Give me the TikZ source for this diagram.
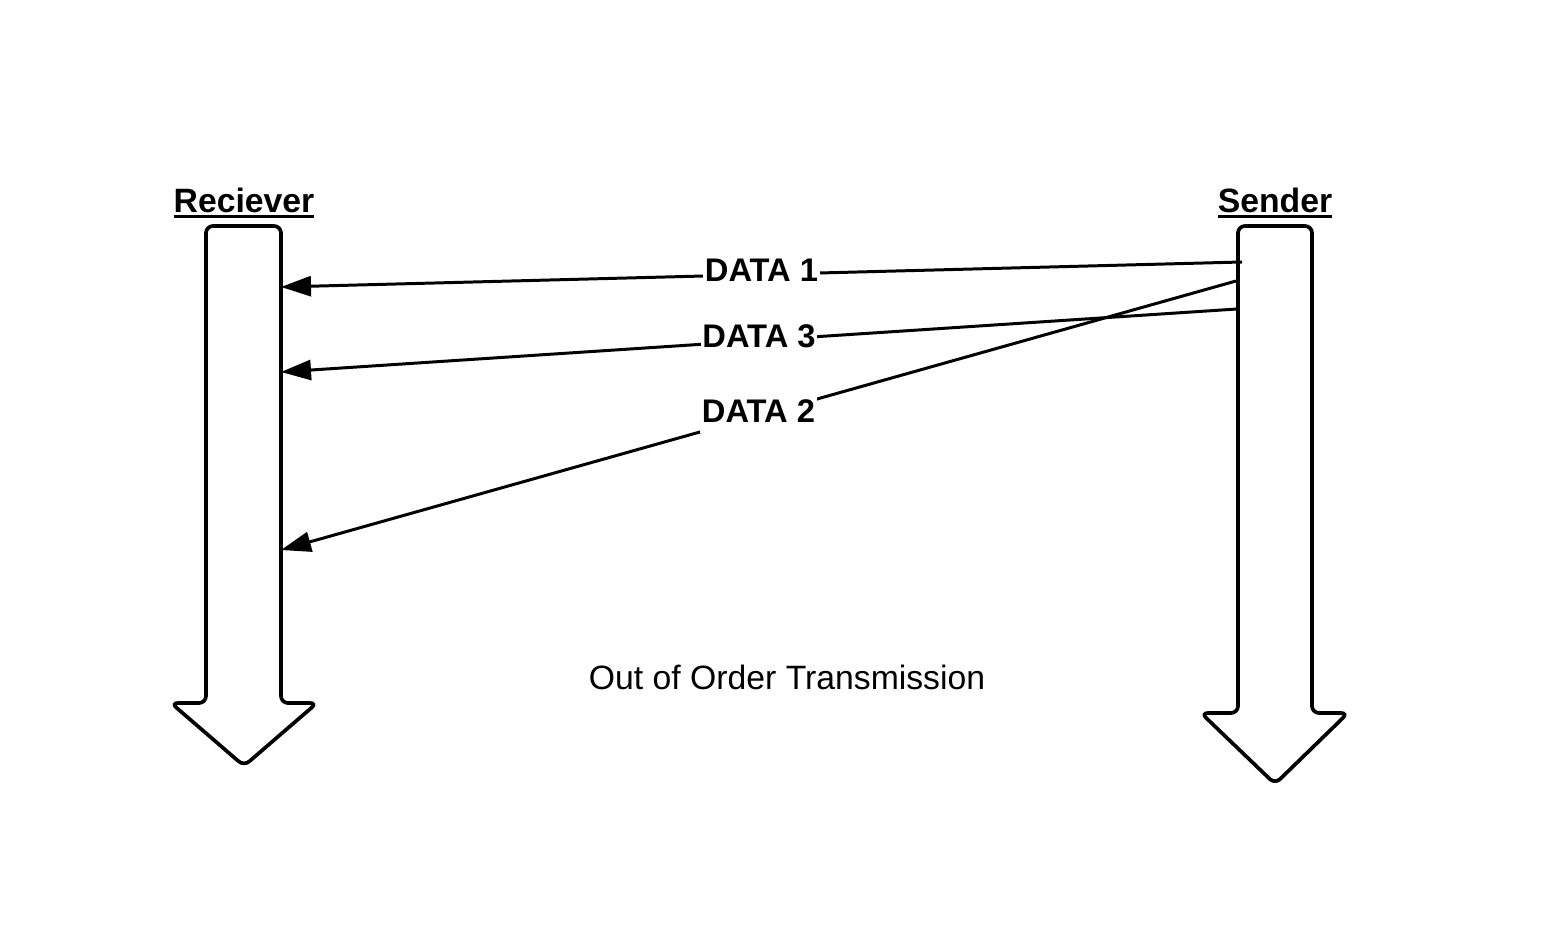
\documentclass[tikz,border=0pt]{standalone}
\usepackage{fontspec}
\setmainfont{Liberation Sans}
\usetikzlibrary{arrows.meta}
\newcommand\thickul[1]{\setbox0\hbox{#1}\rlap{\rule[-1.5pt]{\wd0}{0.85pt}}\box0}

\begin{document}
\begin{tikzpicture}[
		lifeline/.style={draw=black,line width=1.05pt,rounded corners=0.07cm,fill=white},
		msg/.style={draw=black,line width=0.85pt,-{Triangle[length=0.3cm,width=0.2cm]}},
		datalabel/.style={fill=white,inner xsep=0.5pt,inner ysep=3pt,font=\fontsize{9.3}{11}\selectfont\bfseries,midway,yshift=0.04cm},
		title/.style={anchor=base,inner sep=0pt,font=\fontsize{9.6}{11}\selectfont\bfseries}
	]
		\useasboundingbox (0,0) rectangle (15.59,9.38);
		% receiver arrow
		\draw [lifeline] (2.06,7.12) -- (2.81,7.12) -- (2.81,2.35) -- (3.17,2.35) -- (2.44,1.72) -- (1.71,2.35) -- (2.06,2.35) -- cycle;
		% sender arrow
		\draw [lifeline] (12.38,7.12) -- (13.12,7.12) -- (13.12,2.25) -- (13.48,2.25) -- (12.75,1.54) -- (12.01,2.25) -- (12.38,2.25) -- cycle;
		\node [title] (R) at (2.44,7.25) {\thickul{Reciever}};
		\node [title] (S) at (12.75,7.25) {\thickul{Sender}};
		\coordinate (S1) at (12.42,6.76);
		\coordinate (S2) at (12.36,6.57);
		\coordinate (S3) at (12.37,6.29);
		\coordinate (R1) at (2.81,6.51);
		\coordinate (R2) at (2.81,3.88);
		\coordinate (R3) at (2.81,5.66);
		\draw [msg] (S1) -- node [datalabel] (D1) {DATA 1} (R1);
		\draw [msg] (S3) -- node [datalabel] (D3) {DATA 3} (R3);
		\draw [msg] (S2) -- node [datalabel] (D2) {DATA 2} (R2);
		\node [font=\fontsize{9.6}{11}\selectfont] (T) at (7.87,2.61) {Out of Order Transmission};
	\end{tikzpicture}
\end{document}
